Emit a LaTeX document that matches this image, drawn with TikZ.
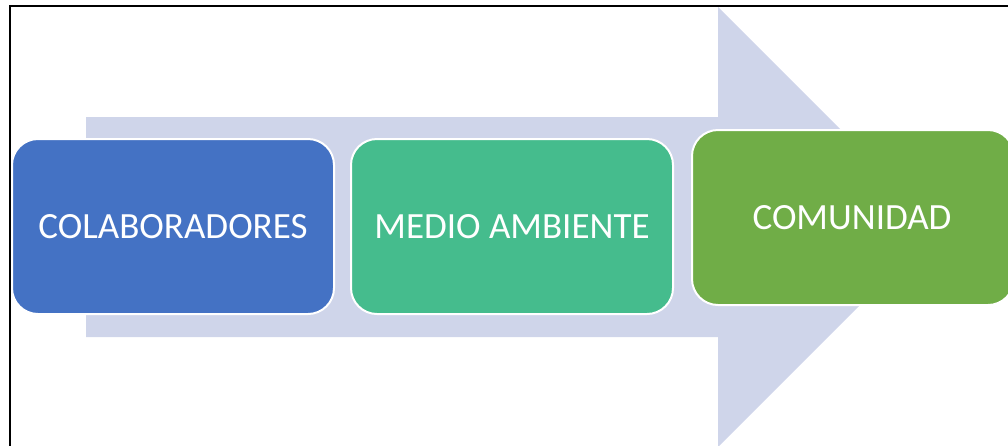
\documentclass[tikz,border=0pt]{standalone}
\usepackage{fontspec}
\setmainfont{Carlito}
\definecolor{arrowfill}{HTML}{CFD5EA}
\definecolor{cblue}{HTML}{4472C4}
\definecolor{cteal}{HTML}{45BC8D}
\definecolor{cgreen}{HTML}{70AD47}
\tikzset{
  stagebox/.style={draw=white, line width=2pt, rounded corners=26pt, text=white,
    font=\fontsize{37}{40}\selectfont, inner sep=0pt}
}
\begin{document}
\begin{tikzpicture}[x=1pt,y=-1pt]
\useasboundingbox (0,0) rectangle (1008,445);
\begin{scope}
\clip (0,0) rectangle (1008,445);
% big arrow
\fill[arrowfill] (86,117) -- (718,117) -- (718,7) -- (938,227) -- (718,447) -- (718,337) -- (86,337) -- cycle;
% boxes
\path[stagebox, fill=cblue] (12,139) rectangle (334,314);
\node[text=white, font=\fontsize{37}{40}\selectfont] (c1) at (173,227) {COLABORADORES};
\path[stagebox, fill=cteal] (351,139) rectangle (673,314);
\node[text=white, font=\fontsize{37}{40}\selectfont] (c2) at (512,227) {MEDIO AMBIENTE};
\path[stagebox, fill=cgreen] (692,130) rectangle (1014,305);
\node[text=white, font=\fontsize{37}{40}\selectfont] (c3) at (852,218) {COMUNIDAD};
% frame
\draw[line width=2pt] (10,446) -- (10,6) -- (1010,6);
\end{scope}
\end{tikzpicture}
\end{document}
